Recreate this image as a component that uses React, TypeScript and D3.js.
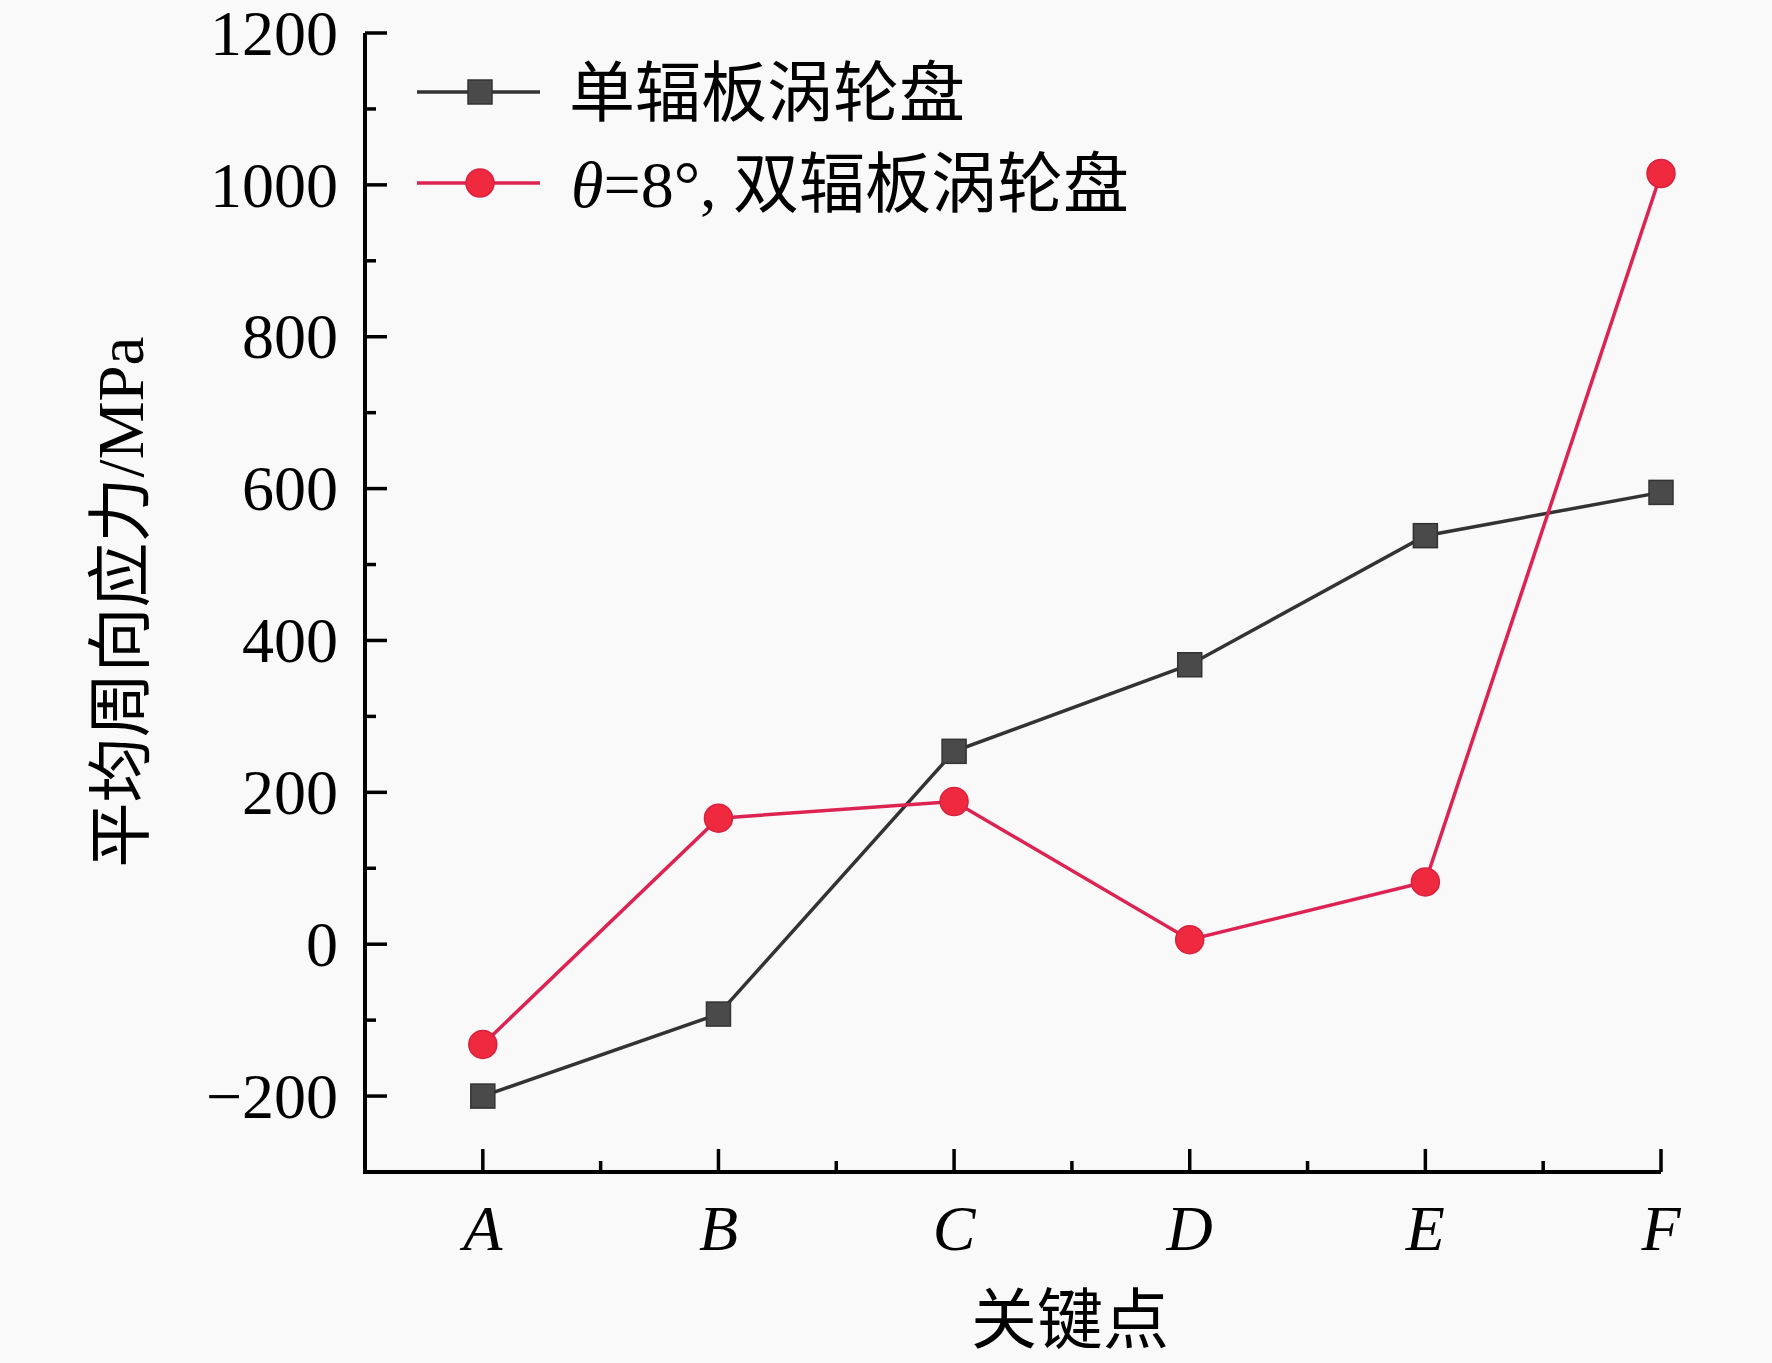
import React, { useEffect, useRef } from "react";
import * as d3 from "d3";

const categories = ["A", "B", "C", "D", "E", "F"];
const singleWeb = [-200, -92, 254, 368, 538, 595];
const doubleWeb = [-132, 166, 188, 6, 82, 1015];
const yTicks = [-200, 0, 200, 400, 600, 800, 1000, 1200];
const seriesNames = ["单辐板涡轮盘", "双辐板涡轮盘"];

const W = 1772;
const H = 1363;
const FONT = "'Liberation Serif', 'Times New Roman', 'Noto Sans CJK SC', serif";

const App: React.FC = () => {
  const svgRef = useRef<SVGSVGElement | null>(null);

  useEffect(() => {
    document.body.style.margin = "0";
    if (!svgRef.current) return;
    const svg = d3.select(svgRef.current);
    svg.selectAll("*").remove();

    const margin = { top: 33, right: 111, bottom: 191, left: 365 };
    const x = d3
      .scaleLinear()
      .domain([-0.5, categories.length - 1])
      .range([margin.left, W - margin.right]);
    const y = d3
      .scaleLinear()
      .domain([-300, 1200])
      .range([H - margin.bottom, margin.top]);

    svg.append("rect").attr("width", W).attr("height", H).attr("fill", "#f9f9f9");

    const axisColor = "#000";
    const x0 = x.range()[0];
    const y0 = y.range()[0];

    // y axis, ticks point inward
    const yMinor = d3.range(-300, 1201, 100).filter((v) => !yTicks.includes(v));
    const yAxis = svg.append("g");
    yAxis
      .selectAll(".maj")
      .data(yTicks)
      .enter()
      .append("line")
      .attr("x1", x0)
      .attr("x2", x0 + 22)
      .attr("y1", (d) => y(d))
      .attr("y2", (d) => y(d))
      .attr("stroke", axisColor)
      .attr("stroke-width", 3.5);
    yAxis
      .selectAll(".min")
      .data(yMinor)
      .enter()
      .append("line")
      .attr("x1", x0)
      .attr("x2", x0 + 11)
      .attr("y1", (d) => y(d))
      .attr("y2", (d) => y(d))
      .attr("stroke", axisColor)
      .attr("stroke-width", 3.5);
    yAxis
      .selectAll("text")
      .data(yTicks)
      .enter()
      .append("text")
      .attr("x", x0 - 27)
      .attr("y", (d) => y(d))
      .attr("dy", "0.34em")
      .attr("text-anchor", "end")
      .attr("font-family", FONT)
      .attr("font-size", 64)
      .text((d) => (d < 0 ? "\u2212" + Math.abs(d) : String(d)));

    // x axis, ticks point inward
    const xAxis = svg.append("g");
    const xMinor = d3.range(0.5, categories.length - 1, 1);
    xAxis
      .selectAll(".maj")
      .data(categories)
      .enter()
      .append("line")
      .attr("x1", (_, i) => x(i))
      .attr("x2", (_, i) => x(i))
      .attr("y1", y0)
      .attr("y2", y0 - 23)
      .attr("stroke", axisColor)
      .attr("stroke-width", 3.5);
    xAxis
      .selectAll(".min")
      .data(xMinor)
      .enter()
      .append("line")
      .attr("x1", (d) => x(d))
      .attr("x2", (d) => x(d))
      .attr("y1", y0)
      .attr("y2", y0 - 11)
      .attr("stroke", axisColor)
      .attr("stroke-width", 3.5);
    xAxis
      .selectAll("text")
      .data(categories)
      .enter()
      .append("text")
      .attr("x", (_, i) => x(i))
      .attr("y", 1250)
      .attr("text-anchor", "middle")
      .attr("font-family", FONT)
      .attr("font-style", "italic")
      .attr("font-size", 64)
      .text((d) => d);

    // axis lines
    svg
      .append("path")
      .attr("d", `M${x0},${y(1200)}V${y0}H${x.range()[1]}`)
      .attr("fill", "none")
      .attr("stroke", axisColor)
      .attr("stroke-width", 4);

    // axis titles
    svg
      .append("text")
      .attr("x", 1070)
      .attr("y", 1343)
      .attr("text-anchor", "middle")
      .attr("font-family", FONT)
      .attr("font-size", 66)
      .text("关键点");
    svg
      .append("text")
      .attr("transform", `translate(143,602) rotate(-90)`)
      .attr("text-anchor", "middle")
      .attr("font-family", FONT)
      .attr("font-size", 65)
      .text("平均周向应力/MPa");

    const line = d3
      .line<number>()
      .x((_, i) => x(i))
      .y((d) => y(d));

    // single web disk
    svg
      .append("path")
      .datum(singleWeb)
      .attr("d", line)
      .attr("fill", "none")
      .attr("stroke", "#333")
      .attr("stroke-width", 3.5);
    svg
      .selectAll(".sq")
      .data(singleWeb)
      .enter()
      .append("rect")
      .attr("x", (_, i) => x(i) - 12)
      .attr("y", (d) => y(d) - 12)
      .attr("width", 24)
      .attr("height", 24)
      .attr("fill", "#4a4a4a")
      .attr("stroke", "#333")
      .attr("stroke-width", 1.5);

    // double web disk
    svg
      .append("path")
      .datum(doubleWeb)
      .attr("d", line)
      .attr("fill", "none")
      .attr("stroke", "#dc2352")
      .attr("stroke-width", 3.5);
    svg
      .selectAll(".ci")
      .data(doubleWeb)
      .enter()
      .append("circle")
      .attr("cx", (_, i) => x(i))
      .attr("cy", (d) => y(d))
      .attr("r", 14)
      .attr("fill", "#ef2a3e")
      .attr("stroke", "#d8213f")
      .attr("stroke-width", 1.5);

    // legend
    const lg = svg.append("g");
    const rows = [92, 183];
    lg.append("line")
      .attr("x1", 417).attr("x2", 540).attr("y1", rows[0]).attr("y2", rows[0])
      .attr("stroke", "#333").attr("stroke-width", 3.5);
    lg.append("rect")
      .attr("x", 480 - 12).attr("y", rows[0] - 12).attr("width", 24).attr("height", 24)
      .attr("fill", "#4a4a4a").attr("stroke", "#333").attr("stroke-width", 1.5);
    lg.append("line")
      .attr("x1", 417).attr("x2", 540).attr("y1", rows[1]).attr("y2", rows[1])
      .attr("stroke", "#dc2352").attr("stroke-width", 3.5);
    lg.append("circle")
      .attr("cx", 480).attr("cy", rows[1]).attr("r", 14)
      .attr("fill", "#ef2a3e").attr("stroke", "#d8213f").attr("stroke-width", 1.5);

    lg.append("text")
      .attr("x", 569).attr("y", rows[0]).attr("dy", "0.36em")
      .attr("font-family", FONT).attr("font-size", 66)
      .text(seriesNames[0]);
    const t2 = lg.append("text")
      .attr("x", 571).attr("y", rows[1]).attr("dy", "0.36em")
      .attr("font-family", FONT).attr("font-size", 66);
    t2.append("tspan").attr("font-style", "italic").text("θ");
    t2.append("tspan").text("=8°, " + seriesNames[1]);
  }, []);

  return <svg ref={svgRef} width={W} height={H} style={{ display: "block" }} />;
};

export default App;
